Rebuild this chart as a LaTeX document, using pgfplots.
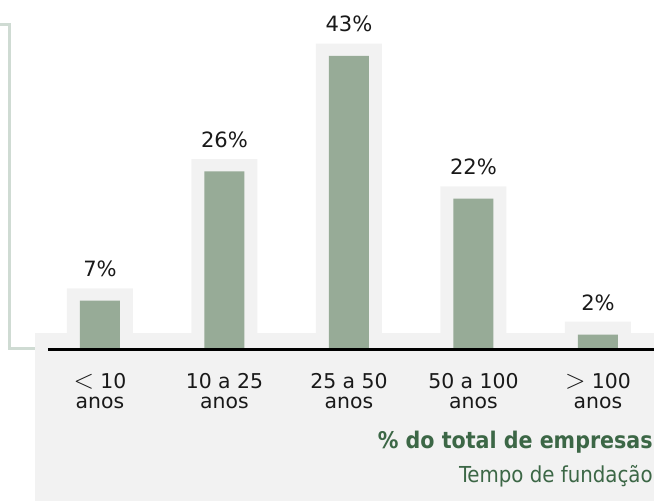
\documentclass[border=0pt]{standalone}
\usepackage{graphicx}
\usepackage{pgfplots}
\pgfplotsset{compat=1.18}
\usepackage{fontspec}
\setmainfont{DejaVu Sans}
\newfontfamily\condfont{DejaVu Sans Condensed}
\definecolor{bargreen}{HTML}{97AB97}
\definecolor{halogray}{HTML}{F2F2F2}
\definecolor{titlegreen}{HTML}{3C6746}
\definecolor{bracketcol}{HTML}{CFDBD3}
\newcommand{\lt}{\scalebox{1.4}{$<$}}
\newcommand{\gt}{\scalebox{1.4}{$>$}}
\begin{document}
\begin{tikzpicture}
\begin{axis}[
  scale only axis,
  width=490.5pt, height=375pt,
  xmin=-0.803, xmax=4.450,
  ymin=-22.35, ymax=51.18,
  axis line style={draw=none},
  axis on top=true,
  major tick length=0pt,
  ytick=\empty,
  xtick={0,1,2,3,4},
  xticklabels={{\lt\ 10\\anos},{10 a 25\\anos},{25 a 50\\anos},{50 a 100\\anos},{\gt\ 100\\anos}},
  xticklabel style={align=center, anchor=base, yshift=69pt, font=\fontsize{15.3}{15}\selectfont, text=black!90},
  /pgf/number format/assume math mode=true,
  clip=true,
]
% bracket
\addplot[bracketcol, line width=2.25pt] coordinates {(-0.85,47.65) (-0.723,47.65) (-0.723,0) (-0.50,0)};
% panel
\addplot[fill=halogray, draw=none] coordinates {(-0.522,-23) (4.5,-23) (4.5,2.2) (-0.522,2.2)} -- cycle;
% halos
\addplot[ybar, bar shift=0pt, bar width=49.5pt, fill=halogray, draw=none] coordinates {(0,8.8) (1,27.8) (2,44.8) (3,23.8) (4,3.9)};
% bars
\addplot[ybar, bar shift=0pt, bar width=30pt, fill=bargreen, draw=none,
  nodes near coords={\pgfmathprintnumber{\pgfplotspointmeta}\%},
  every node near coord/.append style={anchor=base, yshift=18pt, font=\fontsize{15.8}{15}\selectfont, text=black!90}]
  coordinates {(0,7) (1,26) (2,43) (3,22) (4,2)};
% baseline
\addplot[black, line width=2pt] coordinates {(-0.418,-0.15) (4.5,-0.15)};
\node[anchor=base east, inner sep=0pt, text=titlegreen, font=\condfont\bfseries\fontsize{17.2}{20}\selectfont] at (axis cs:4.442,-14.7) {\% do total de empresas};
\node[anchor=base east, inner sep=0pt, text=titlegreen, font=\condfont\fontsize{16.5}{20}\selectfont] at (axis cs:4.442,-19.7) {Tempo de fundação};
\end{axis}
\end{tikzpicture}
\end{document}
